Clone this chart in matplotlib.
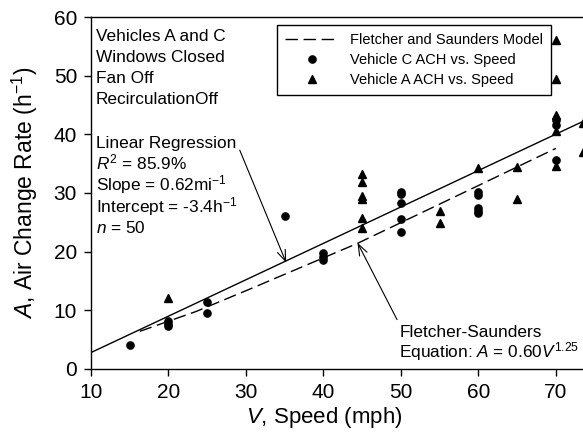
import matplotlib
matplotlib.use('Agg')
import matplotlib.pyplot as plt
from matplotlib.lines import Line2D

plt.rcParams['font.family'] = ['Liberation Sans', 'DejaVu Sans']
plt.rcParams['mathtext.fontset'] = 'custom'
plt.rcParams['mathtext.rm'] = 'Liberation Sans'
plt.rcParams['mathtext.it'] = 'Liberation Sans:italic'

# Vehicle C (circles)
c_speed = [15, 20, 20, 20, 25, 25, 35, 40, 40, 40,
           50, 50, 50, 50, 50, 60, 60, 60, 60, 60, 70, 70, 70]
c_ach = [4.0, 8.2, 7.7, 7.3, 11.4, 9.5, 26.1, 19.7, 19.0, 18.5,
         30.2, 29.8, 28.3, 25.5, 23.3, 30.1, 29.6, 27.5, 27.0, 26.6, 42.4, 41.6, 35.7]

# Vehicle A (triangles)
a_speed = [20, 45, 45, 45, 45, 45, 45, 55, 55, 60, 65, 65,
           70, 70, 70, 70, 70, 73.5, 73.5]
a_ach = [12.0, 33.2, 31.9, 29.5, 28.9, 25.8, 24.0, 26.9, 24.9, 34.3, 34.5, 29.0,
         56.0, 49.4, 43.3, 40.5, 34.6, 41.9, 37.0]

# linear regression line (A = 0.62V - 3.4)
reg_v = [10.2, 73.5]
reg_a = [2.9, 42.2]

# Fletcher and Saunders model curve
fs_v = [16.3, 23.6, 30.5, 44.4, 58.8, 70.0]
fs_a = [6.4, 9.8, 13.6, 21.4, 30.5, 37.6]

conditions = ['Vehicles A and C', 'Windows Closed', 'Fan Off', 'RecirculationOff']
regression = ['Linear Regression', '$\\it{R}^{2}$ = 85.9%', 'Slope = 0.62mi$^{-1}$',
              'Intercept = -3.4h$^{-1}$', '$\\it{n}$ = 50']
model = ['Fletcher-Saunders', 'Equation: $\\it{A}$ = 0.60$\\it{V}^{1.25}$']

fig = plt.figure(figsize=(5.83, 4.36), dpi=100)
ax = fig.add_axes([0.156, 0.154, 0.844, 0.807])

ax.plot(reg_v, reg_a, color='black', lw=1.0)
ax.plot(fs_v, fs_a, color='black', lw=1.0, linestyle=(0, (9, 4)))
ax.plot(c_speed, c_ach, 'o', color='black', ms=5.2, clip_on=False)
ax.plot(a_speed, a_ach, '^', color='black', ms=5.2, clip_on=False)

ax.set_xlim(10, 73.5)
ax.set_ylim(0, 60)
ax.set_xticks([10, 20, 30, 40, 50, 60, 70])
ax.set_yticks([0, 10, 20, 30, 40, 50, 60])
ax.tick_params(direction='out', length=5, width=1, labelsize=15, pad=5)
ax.spines['right'].set_visible(False)
for s in ['left', 'bottom', 'top']:
    ax.spines[s].set_linewidth(1.0)

ax.set_xlabel(r'$\it{V}$, Speed (mph)', fontsize=16)
ax.xaxis.set_label_coords(0.475, -0.104)
ax.set_ylabel(r'$\it{A}$, Air Change Rate (h$^{-1}$)', fontsize=16.5, labelpad=10)

# text blocks, one line at a time (baselines)
for i, s in enumerate(conditions):
    ax.text(10.64, 55.9 - i * 3.6, s, fontsize=12.4, va='baseline', ha='left')
for i, s in enumerate(regression):
    ax.text(10.64, 37.7 - i * 3.65, s, fontsize=12.4, va='baseline', ha='left')
for i, s in enumerate(model):
    ax.text(49.8, 5.5 - i * 3.5, s, fontsize=12.4, va='baseline', ha='left')

ax.annotate('', xy=(35.2, 18.1), xytext=(29.2, 37.3),
            arrowprops=dict(arrowstyle='->,head_length=0.8,head_width=0.3',
                            color='black', lw=0.8, shrinkA=0, shrinkB=0))
ax.annotate('', xy=(44.4, 21.5), xytext=(49.5, 8.4),
            arrowprops=dict(arrowstyle='->,head_length=0.8,head_width=0.3',
                            color='black', lw=0.8, shrinkA=0, shrinkB=0))

handles = [Line2D([], [], color='black', lw=1.0, linestyle=(0, (9, 4))),
           Line2D([], [], marker='o', color='black', ls='none', ms=5.2),
           Line2D([], [], marker='^', color='black', ls='none', ms=5.2)]
labels = ['Fletcher and Saunders Model', 'Vehicle C ACH vs. Speed', 'Vehicle A ACH vs. Speed']
leg = ax.legend(handles, labels, loc='upper left', bbox_to_anchor=(0.378, 0.977),
                fontsize=10.5, frameon=True, fancybox=False, edgecolor='black',
                framealpha=1, handlelength=3.7, handletextpad=0.75,
                borderpad=0.55, labelspacing=0.42, borderaxespad=0)
leg.get_frame().set_linewidth(1.0)

plt.savefig('out.png', dpi=100)
